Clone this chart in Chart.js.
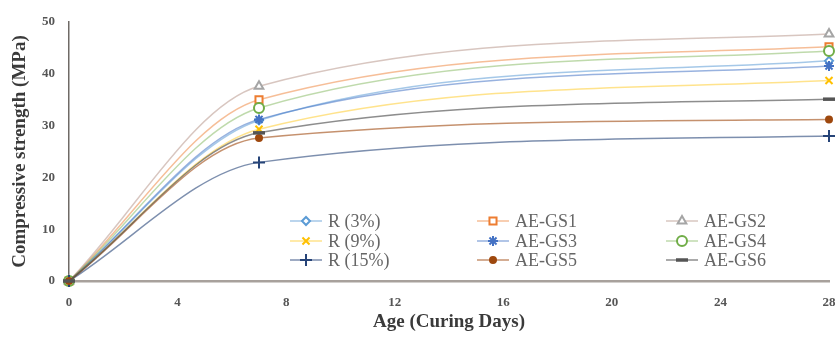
<!DOCTYPE html>
<html>
<head>
<meta charset="utf-8">
<script src="https://cdn.jsdelivr.net/npm/chart.js@4/dist/chart.umd.min.js"></script>
<style>
  html, body { margin: 0; padding: 0; background: #fff; }
  #wrap { width: 835px; height: 337px; }
</style>
</head>
<body>
<div id="wrap"><canvas id="strengthChart" width="835" height="337"></canvas></div>
<script>
const ages = [0, 7, 28];
const xTicks = [0, 4, 8, 12, 16, 20, 24, 28];

const seriesNames = ['R (3%)', 'AE-GS1', 'AE-GS2', 'R (9%)', 'AE-GS3', 'AE-GS4', 'R (15%)', 'AE-GS5', 'AE-GS6'];
const r3 = [0, 31, 42.5];
const aeGs1 = [0, 35, 45.2];
const aeGs2 = [0, 37.6, 47.7];
const r9 = [0, 29.3, 38.7];
const aeGs3 = [0, 31.2, 41.5];
const aeGs4 = [0, 33.4, 44.4];
const r15 = [0, 22.9, 28];
const aeGs5 = [0, 27.6, 31.2];
const aeGs6 = [0, 28.6, 35.1];

const seriesValues = [r3, aeGs1, aeGs2, r9, aeGs3, aeGs4, r15, aeGs5, aeGs6];

// marker look per series (Excel default palette)
const markerColors = ['#5b9bd5', '#ed7d31', '#a5a5a5', '#ffc000', '#4472c4', '#70ad47', '#264478', '#9e480e', '#555555'];
const lineColors = ['rgba(91,155,213,0.55)', 'rgba(237,125,49,0.5)', 'rgba(190,160,150,0.6)', 'rgba(255,192,0,0.45)',
  'rgba(68,114,196,0.55)', 'rgba(112,173,71,0.45)', 'rgba(38,68,120,0.6)', 'rgba(158,72,14,0.6)', 'rgba(80,80,80,0.65)'];
const markerShapes = ['rectRot', 'rect', 'triangle', 'crossRot', 'star', 'circle', 'cross', 'circle', 'line'];
const markerSizes = [4, 5, 5, 5, 5, 5, 6, 3, 6];
const markerFilled = [false, false, false, false, false, false, false, true, false];

const serif = '"Liberation Serif", "Times New Roman", serif';

const datasets = seriesNames.map((name, i) => ({
  label: name,
  data: ages.map((a, j) => ({ x: a, y: seriesValues[i][j] })),
  showLine: true,
  cubicInterpolationMode: 'monotone',
  borderColor: lineColors[i],
  borderWidth: 1.5,
  pointStyle: markerShapes[i],
  pointRadius: markerSizes[i],
  pointBorderColor: markerColors[i],
  pointBackgroundColor: markerFilled[i] ? markerColors[i] : '#ffffff',
  pointBorderWidth: markerShapes[i] === 'line' ? 3.5 : 2,
  clip: false,
  order: 9 - i
}));

// legend drawn inside the plot, 3 columns x 3 rows
const legendInside = {
  id: 'legendInside',
  afterDraw(chart) {
    const ctx = chart.ctx;
    const colX = [306, 493, 682];
    const rowY = [221, 241, 260];
    ctx.save();
    chart.data.datasets.forEach((ds, i) => {
      const mx = colX[i % 3];
      const my = rowY[Math.floor(i / 3)];
      ctx.strokeStyle = ds.borderColor;
      ctx.lineWidth = 1.5;
      ctx.beginPath();
      ctx.moveTo(mx - 16, my);
      ctx.lineTo(mx + 16, my);
      ctx.stroke();
      ctx.strokeStyle = ds.pointBorderColor;
      ctx.fillStyle = ds.pointBackgroundColor;
      ctx.lineWidth = ds.pointBorderWidth;
      Chart.helpers.drawPoint(ctx, { pointStyle: ds.pointStyle, radius: ds.pointRadius, rotation: 0, borderWidth: ds.pointBorderWidth }, mx, my);
      ctx.fillStyle = '#666666';
      ctx.font = '18px ' + serif;
      ctx.textBaseline = 'middle';
      ctx.textAlign = 'left';
      ctx.fillText(ds.label, mx + 22, my + 1);
    });
    ctx.restore();
  }
};

new Chart(document.getElementById('strengthChart').getContext('2d'), {
  type: 'scatter',
  data: { datasets },
  options: {
    responsive: false,
    animation: false,
    layout: { autoPadding: false, padding: { top: 22, right: 6, left: 0, bottom: 0 } },
    plugins: { legend: { display: false }, tooltip: { enabled: false } },
    scales: {
      x: {
        type: 'linear',
        min: 0,
        max: 28,
        afterBuildTicks: scale => { scale.ticks = xTicks.map(v => ({ value: v })); },
        afterFit: scale => { scale.height = 56; scale.paddingLeft = 0; scale.paddingRight = 0; },
        grid: { display: false, drawTicks: false },
        border: { display: true, color: '#a8a19c', width: 2.5 },
        ticks: { color: '#555', padding: 14, font: { family: serif, size: 13, weight: 'bold' } },
        title: { display: true, text: 'Age (Curing Days)', color: '#3a3a3a', padding: { top: 0, bottom: 4 }, font: { family: serif, size: 19, weight: 'bold' } }
      },
      y: {
        min: 0,
        max: 50,
        afterFit: scale => { scale.width = 69; scale.paddingTop = 0; scale.paddingBottom = 0; },
        grid: { display: false, drawTicks: false },
        border: { display: true, color: '#6f6a66', width: 1.5 },
        ticks: { stepSize: 10, color: '#555', padding: 14, font: { family: serif, size: 13, weight: 'bold' } },
        title: { display: true, text: 'Compressive strength (MPa)', color: '#3a3a3a', padding: { top: 9, bottom: 0 }, font: { family: serif, size: 19, weight: 'bold' } }
      }
    }
  },
  plugins: [legendInside]
});
</script>
</body>
</html>
